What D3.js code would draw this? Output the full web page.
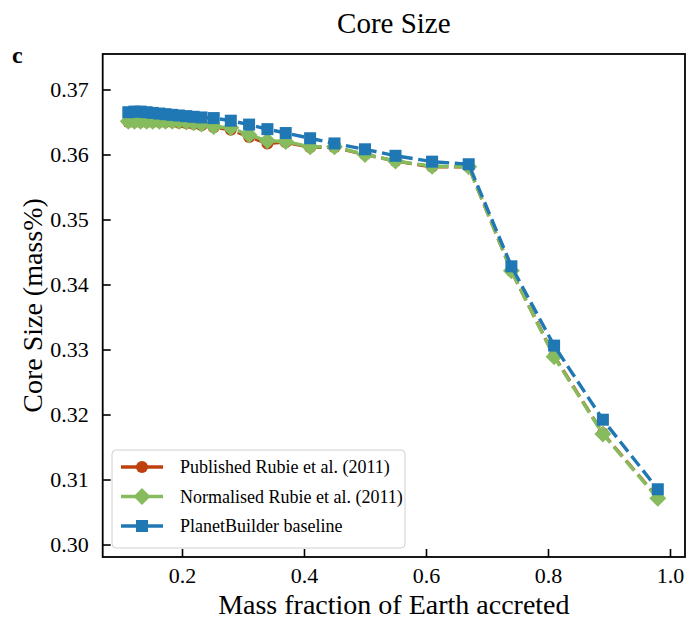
<!DOCTYPE html>
<html><head><meta charset="utf-8">
<script src="https://cdn.jsdelivr.net/npm/d3@7"></script>
<style>
html,body{margin:0;padding:0;background:#fff;}
svg{display:block;font-family:"Liberation Serif","Times New Roman",serif;}
svg text{font-family:"Liberation Serif","Times New Roman",serif;}
</style></head>
<body><svg id="chart" width="689" height="636"></svg>
<script>
const massFraction = [0.112,0.122,0.132,0.142,0.152,0.163,0.173,0.184,0.195,0.207,0.219,0.232,0.252,0.28,0.31,0.34,0.37,0.41,0.45,0.50,0.55,0.61,0.67,0.74,0.81,0.89,0.98];
const publishedRubie = [0.3650,0.3650,0.3650,0.3650,0.3650,0.3650,0.3650,0.3650,0.3649,0.3648,0.3647,0.3645,0.3642,0.3638,0.3627,0.3617,0.3619,0.3611,0.3611,0.3600,0.3590,0.3581,0.3581,0.3421,0.3290,0.3171,0.3072];
const normalisedRubie = [0.3651,0.3651,0.3651,0.3651,0.3651,0.3651,0.3651,0.3651,0.3651,0.3650,0.3649,0.3647,0.3643,0.3641,0.3630,0.3621,0.3620,0.3612,0.3612,0.3600,0.3590,0.3582,0.3581,0.3421,0.3289,0.3170,0.3071];
const planetBuilder = [0.3665,0.3666,0.3666,0.3665,0.3664,0.3663,0.3662,0.3661,0.3660,0.3659,0.3658,0.3657,0.3656,0.3652,0.3646,0.3639,0.3633,0.3625,0.3617,0.3608,0.3598,0.3589,0.3585,0.3428,0.3306,0.3192,0.3085];
const xTicks = [0.2,0.4,0.6,0.8,1.0];
const yTicks = [0.30,0.31,0.32,0.33,0.34,0.35,0.36,0.37];
const seriesNames = ["Published Rubie et al. (2011)","Normalised Rubie et al. (2011)","PlanetBuilder baseline"];
const seriesColors = ["#bf400f","#86bc5e","#1f77b4"];
const seriesMarkers = ["circle","diamond","square"];

const FONT = "'Liberation Serif','Times New Roman',serif";
const svg = d3.select("#chart");
const L=102.7, R=685, T=54, B=557;
const x = d3.scaleLinear().domain([0.07,1.0246]).range([L,R]);
const y = d3.scaleLinear().domain([0.29808,0.37546]).range([B,T]);

const series = [publishedRubie, normalisedRubie, planetBuilder].map((vals,i)=>({
  name: seriesNames[i], color: seriesColors[i], marker: seriesMarkers[i],
  pts: massFraction.map((m,j)=>[m, vals[j]])
}));

const MS = 12;
function drawMarker(g, type, cx, cy, color){
  if(type==="circle"){
    g.append("circle").attr("cx",cx).attr("cy",cy).attr("r",MS/2).attr("fill",color);
  } else if(type==="square"){
    g.append("rect").attr("x",cx-MS/2).attr("y",cy-MS/2).attr("width",MS).attr("height",MS).attr("fill",color);
  } else {
    const h = MS*Math.SQRT2/2;
    g.append("path").attr("d",`M${cx},${cy-h}L${cx+h},${cy}L${cx},${cy+h}L${cx-h},${cy}Z`).attr("fill",color);
  }
}

const plot = svg.append("g");
const line = d3.line().x(d=>x(d[0])).y(d=>y(d[1]));
series.forEach(s=>{
  const g = plot.append("g");
  g.append("path").attr("d",line(s.pts)).attr("fill","none").attr("stroke",s.color)
   .attr("stroke-width",3.4).attr("stroke-dasharray","12.8,5.6");
  s.pts.forEach(p=>drawMarker(g, s.marker, x(p[0]), y(p[1]), s.color));
});

// axes (inward ticks)
const xAxis = d3.axisBottom(x).tickValues(xTicks).tickSize(-8).tickPadding(10).tickFormat(d3.format(".1f"));
const yAxis = d3.axisLeft(y).tickValues(yTicks).tickSize(-8).tickPadding(14).tickFormat(d3.format(".2f"));
const gx = svg.append("g").attr("transform",`translate(0,${B})`).call(xAxis);
const gy = svg.append("g").attr("transform",`translate(${L},0)`).call(yAxis);
[gx,gy].forEach(g=>{
  g.attr("font-family",FONT).attr("font-size",22);
  g.select(".domain").remove();
  g.selectAll(".tick line").attr("stroke","#000").attr("stroke-width",1.6);
  g.selectAll(".tick text").attr("fill","#000").attr("font-family",FONT).attr("font-size",22);
});
svg.append("rect").attr("x",L).attr("y",T).attr("width",R-L).attr("height",B-T)
  .attr("fill","none").attr("stroke","#000").attr("stroke-width",1.8);

// labels
svg.append("text").attr("x",(L+R)/2).attr("y",33).attr("text-anchor","middle").attr("font-size",29).text("Core Size");
svg.append("text").attr("x",12).attr("y",63).attr("font-size",24).attr("font-weight","bold").text("c");
svg.append("text").attr("x",(L+R)/2).attr("y",614).attr("text-anchor","middle").attr("font-size",28).text("Mass fraction of Earth accreted");
svg.append("text").attr("transform",`translate(42,${(T+B)/2}) rotate(-90)`).attr("text-anchor","middle").attr("font-size",28).text("Core Size (mass%)");

// legend
const lg = svg.append("g");
lg.append("rect").attr("x",112).attr("y",450).attr("width",293).attr("height",98).attr("rx",4)
  .attr("fill","rgba(255,255,255,0.8)").attr("stroke","#d0d0d0").attr("stroke-width",1);
series.forEach((s,i)=>{
  const yy = 467 + i*29.5;
  lg.append("line").attr("x1",121).attr("x2",163).attr("y1",yy).attr("y2",yy)
    .attr("stroke",s.color).attr("stroke-width",3.4);
  drawMarker(lg, s.marker, 142, yy, s.color);
  lg.append("text").attr("x",180).attr("y",yy+6).attr("font-size",18).text(s.name);
});
</script></body></html>
